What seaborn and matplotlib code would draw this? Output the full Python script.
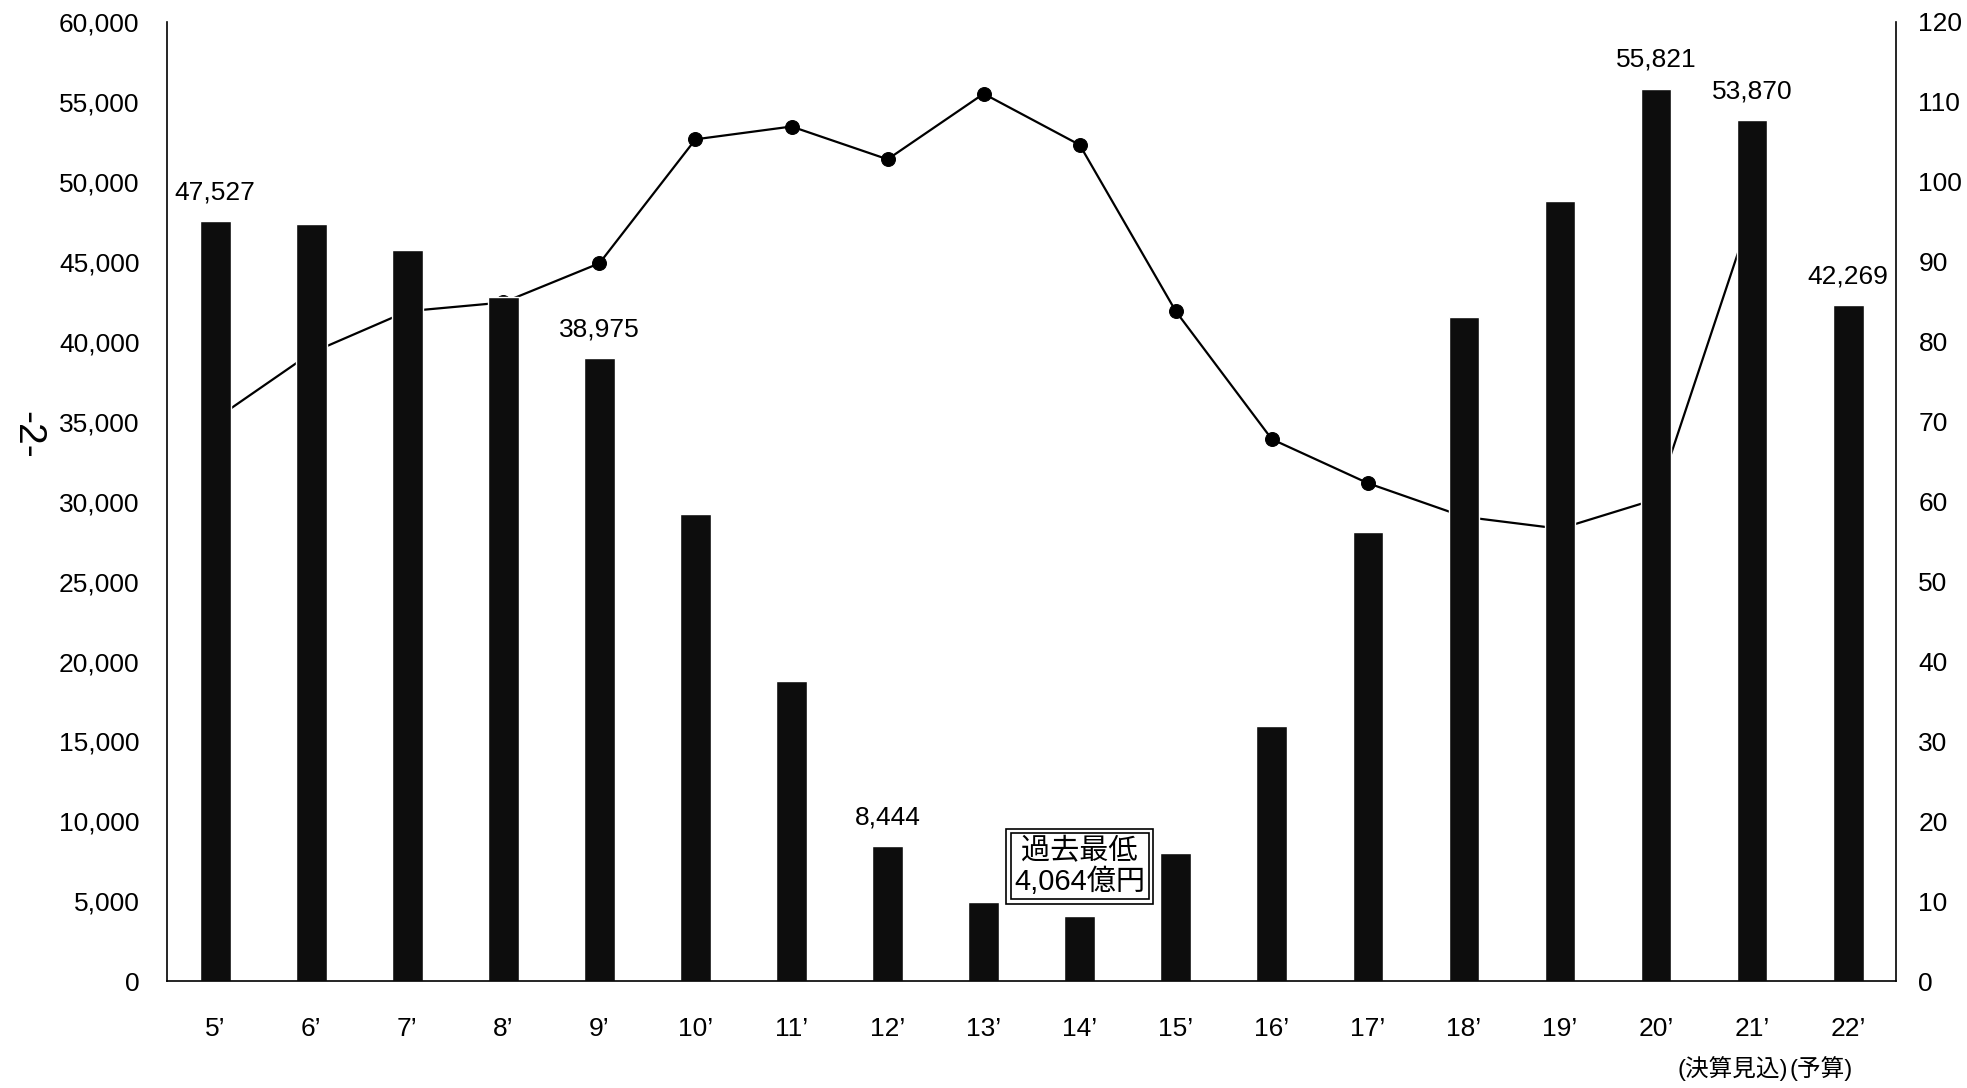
import numpy as np
import matplotlib
matplotlib.use('Agg')
import matplotlib.pyplot as plt
import matplotlib.ticker as mticker
from matplotlib.transforms import blended_transform_factory
import seaborn as sns
import warnings
warnings.filterwarnings('ignore')

sns.set_theme(style='white')
plt.rcParams['font.family'] = ['Liberation Sans Narrow', 'Liberation Sans', 'Noto Sans CJK JP', 'DejaVu Sans']
plt.rcParams['axes.unicode_minus'] = False

# ========================================
# データ
# ========================================
years = ["5’", "6’", "7’", "8’", "9’", "10’", "11’", "12’", "13’",
         "14’", "15’", "16’", "17’", "18’", "19’", "20’", "21’", "22’"]
bar_values = [47527, 47330, 45700, 42760, 38975, 29250, 18780, 8444, 4950,
              4064, 8000, 15960, 28100, 41550, 48800, 55821, 53870, 42269]
# 折れ線 (右軸, 5'〜21')
line_values = [70.3, 78.6, 83.8, 84.9, 89.8, 105.3, 106.9, 102.8, 111.0,
               104.6, 83.8, 67.8, 62.3, 58.1, 56.6, 60.3, 96.4]
labeled_idx = [0, 4, 7, 15, 16, 17]
note_text = ["(決算見込)", "(予算)"]
note_idx = [16, 17]
box_text = "過去最低\n4,064億円"
box_pos = (9, 7200)

FS = 19
# ========================================

fig = plt.figure(figsize=(19.67, 10.88), dpi=100)
ax = fig.add_axes([0.085, 0.098, 0.879, 0.882])
ax2 = ax.twinx()

# 折れ線は棒の後ろ
ax.set_zorder(ax2.get_zorder() + 1)
ax.patch.set_visible(False)

x_pos = np.arange(len(years))
sns.barplot(x=years, y=bar_values, ax=ax, color='#0d0d0d', saturation=1,
            width=0.32, order=years)
sns.lineplot(x=x_pos[:len(line_values)], y=line_values, ax=ax2, color='black',
             linewidth=1.6, marker='o', markersize=10, markeredgecolor='black')

# 棒ラベル
labels = [f"{v:,}" if i in labeled_idx else "" for i, v in enumerate(bar_values)]
ax.bar_label(ax.containers[0], labels=labels, padding=12, fontsize=FS, color='black')

# 軸
ax.set_xlim(-0.5, len(years) - 0.5)
ax.set_ylim(0, 60000)
ax.yaxis.set_major_locator(mticker.MultipleLocator(5000))
ax.yaxis.set_major_formatter(mticker.FuncFormatter(lambda v, p: f"{int(v):,}"))
ax2.set_ylim(0, 120)
ax2.yaxis.set_major_locator(mticker.MultipleLocator(10))

ax.tick_params(axis='y', length=0, pad=20, labelsize=FS, colors='black')
ax.tick_params(axis='x', length=0, pad=26, labelsize=FS, colors='black')
ax2.tick_params(axis='y', length=0, pad=16, labelsize=FS, colors='black')
ax.set_xlabel('')
ax.set_ylabel('')
ax2.set_ylabel('')

for a in (ax, ax2):
    a.spines['top'].set_visible(False)
    for s in ('left', 'right', 'bottom'):
        a.spines[s].set_color('black')
        a.spines[s].set_linewidth(1.2)
ax.spines['right'].set_visible(False)
ax2.spines['left'].set_visible(False)
ax2.spines['bottom'].set_visible(False)

# 過去最低の注記 (二重枠)
ax.text(box_pos[0], box_pos[1], box_text, ha='center', va='center', fontsize=21,
        color='none', linespacing=1.1, zorder=5,
        bbox=dict(boxstyle='square,pad=0.28', fc='white', ec='black', lw=1.2))
ax.text(box_pos[0], box_pos[1], box_text, ha='center', va='center', fontsize=21,
        color='black', linespacing=1.1, zorder=6,
        bbox=dict(boxstyle='square,pad=0.12', fc='white', ec='black', lw=1.2))

# 下の注記
trans = blended_transform_factory(ax.transData, fig.transFigure)
for t, i, dx in zip(note_text, note_idx, [-0.2, -0.28]):
    ax.text(i + dx, 0.018, t, transform=trans, ha='center', va='center',
            fontsize=17, color='black')

# ページ番号
fig.text(0.014, 0.60, "-2-", rotation=-90, ha='center', va='center',
         fontsize=28, color='black')

fig.savefig('out.png', dpi=100, facecolor='white')
